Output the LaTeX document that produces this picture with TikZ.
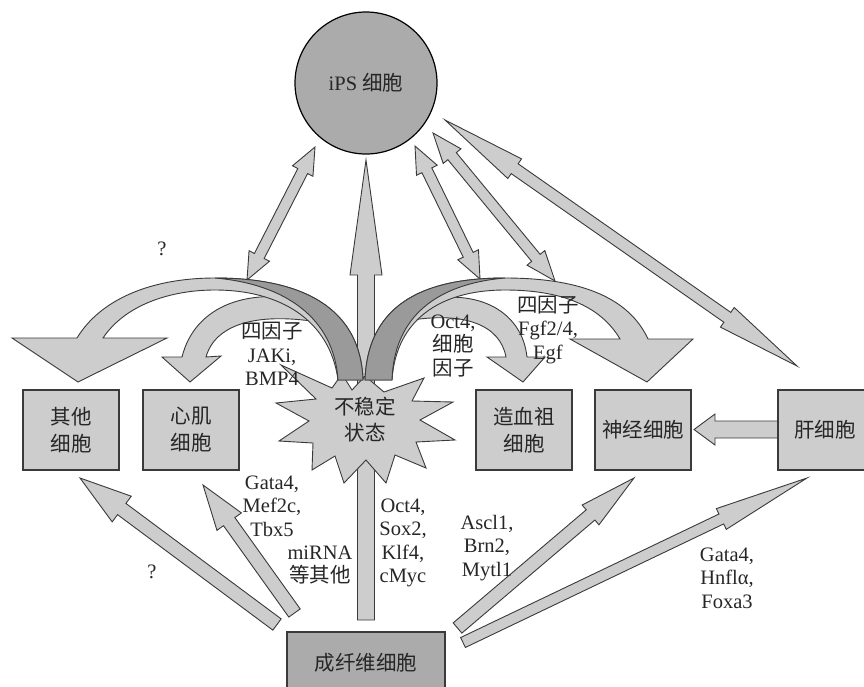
\documentclass[tikz,border=0pt]{standalone}
\usepackage{fontspec}
\setmainfont{Liberation Serif}
\newfontfamily\cjk{Noto Sans CJK SC}
\usetikzlibrary{calc}
\definecolor{lightg}{HTML}{CDCDCD}
\definecolor{midg}{HTML}{ABABAB}
\definecolor{darkg}{HTML}{9A9A9A}
\definecolor{edgec}{HTML}{3A3A3A}
% single block arrow: start, end, half shaft, head length, half head
\newcommand{\blkarrow}[5]{%
  \coordinate (hh) at ($(#2)!#4!(#1)$);
  \draw[blk] ($(#1)!#3!90:(#2)$) -- ($(hh)!#3!90:(#2)$) -- ($(hh)!#5!90:(#2)$) -- (#2)
    -- ($(hh)!#5!-90:(#2)$) -- ($(hh)!#3!-90:(#2)$) -- ($(#1)!#3!-90:(#2)$) -- cycle;}
% double block arrow
\newcommand{\dblarrow}[5]{%
  \coordinate (ha) at ($(#1)!#4!(#2)$);
  \coordinate (hb) at ($(#2)!#4!(#1)$);
  \draw[blk] (#1) -- ($(ha)!#5!90:(#2)$) -- ($(ha)!#3!90:(#2)$) -- ($(hb)!#3!90:(#2)$)
    -- ($(hb)!#5!90:(#2)$) -- (#2) -- ($(hb)!#5!-90:(#2)$) -- ($(hb)!#3!-90:(#2)$)
    -- ($(ha)!#3!-90:(#2)$) -- ($(ha)!#5!-90:(#2)$) -- cycle;}
\begin{document}
\begin{tikzpicture}[x=1pt,y=-1pt,
  blk/.style={draw=edgec, line width=0.9pt, fill=lightg, line join=miter},
  blkdark/.style={draw=edgec, line width=0.9pt, fill=darkg, line join=miter},
  cellbox/.style={draw=edgec, line width=1.3pt, fill=lightg, minimum width=96pt,
    minimum height=80pt, inner sep=0pt, align=center, text=black!85,
    font=\cjk\fontsize{20.5}{27}\selectfont},
  lbl/.style={align=center, inner sep=0pt, text=black!85,
    font=\fontsize{20.5}{23.5}\selectfont}]
\useasboundingbox (0,0) rectangle (864,686);

% ---- connector end points ----
\coordinate (barB) at (366,620);
\coordinate (barT) at (366,160);
\coordinate (d1a) at (247,280); \coordinate (d1b) at (315,147);
\coordinate (d2a) at (480,279); \coordinate (d2b) at (415,146);
\coordinate (d3a) at (555,281); \coordinate (d3b) at (433,133);
\coordinate (d4a) at (797,366); \coordinate (d4b) at (445,120);
\coordinate (hzA) at (780,429.5); \coordinate (hzB) at (694,429.5);
\coordinate (b1a) at (277,624.5); \coordinate (b1b) at (80,478);
\coordinate (b2a) at (294.5,613); \coordinate (b2b) at (203,485);
\coordinate (b3a) at (457.5,628); \coordinate (b3b) at (634,478);
\coordinate (b4a) at (463,642.5); \coordinate (b4b) at (807,478);

% ---- central bar arrow (fibroblast -> iPS) ----
\blkarrow{barB}{barT}{8.5pt}{115pt}{16pt}

% ---- double arrows to iPS ----
\dblarrow{d1a}{d1b}{5.5pt}{27pt}{11.5pt}
\dblarrow{d2a}{d2b}{5.5pt}{27pt}{11.5pt}
\dblarrow{d3a}{d3b}{5.5pt}{30pt}{11.5pt}
\dblarrow{d4a}{d4b}{6pt}{85pt}{12pt}

% ---- unstable state star ----
\draw[blk] (365,376) -- (384,392) -- (424,378) -- (412,401) -- (453,402) -- (420,420)
  -- (455,440) -- (416,442) -- (426,468) -- (395,455) -- (386,483) -- (366,460)
  -- (344,483) -- (335,456) -- (312,470) -- (313,443) -- (279,441) -- (309,421)
  -- (276,403) -- (316,399) -- (281,365) -- (332,388) -- (342,374) -- (352,390) -- cycle;
\node[lbl, font=\cjk\fontsize{20.5}{26}\selectfont] (unstable) at (365,420) {不稳定\\状态};

% ---- small arches ----
\draw[blk] (318,303) .. controls (250,285) and (195,305) .. (182,357) -- (162,357)
  -- (190,382) -- (221,356) -- (206,357) .. controls (215,325) and (255,312) .. (318,322) -- cycle;
\draw[blk] (412,303) .. controls (475,285) and (522,310) .. (527,357) -- (545,357)
  -- (523,382) -- (487,357) -- (506,357) .. controls (500,325) and (465,312) .. (412,320) -- cycle;

% ---- big arches ----
\draw[blk] (363,380) .. controls (360,300) and (290,278) .. (215,278)
  .. controls (150,278) and (100,300) .. (77,338) -- (12,338) -- (78,382) -- (167,338)
  -- (103,338) .. controls (125,305) and (170,290) .. (215,290)
  .. controls (280,290) and (330,320) .. (338,380) -- cycle;
\draw[blkdark] (363,380) .. controls (360,300) and (290,278) .. (215,278)
  .. controls (285,284) and (334,318) .. (338,380) -- cycle;
\draw[blk] (365,380) .. controls (368,300) and (430,278) .. (505,278)
  .. controls (585,278) and (630,300) .. (648,339) -- (693,339) -- (647,382) -- (570,339)
  -- (620,339) .. controls (600,305) and (560,290) .. (505,290)
  .. controls (440,290) and (396,320) .. (392,380) -- cycle;
\draw[blkdark] (365,380) .. controls (368,300) and (430,278) .. (505,278)
  .. controls (435,284) and (394,318) .. (392,380) -- cycle;

% ---- liver -> neuron arrow ----
\blkarrow{hzA}{hzB}{8.5pt}{21pt}{15.5pt}

% ---- arrows from fibroblast ----
\blkarrow{b1a}{b1b}{7pt}{52pt}{16pt}
\blkarrow{b2a}{b2b}{7pt}{45pt}{15pt}
\blkarrow{b3a}{b3b}{6.7pt}{57pt}{13pt}
\blkarrow{b4a}{b4b}{5.5pt}{95pt}{11.5pt}

% ---- nodes ----
\node[circle, draw=black, line width=1.2pt, fill=midg, minimum size=142pt, inner sep=0pt,
  text=black!85, font=\fontsize{20.5}{23.5}\selectfont] (ips) at (366,83) {iPS {\cjk 细胞}};
\node[cellbox] (other) at (71,430) {其他\\细胞};
\node[cellbox] (heart) at (191,430) {心肌\\细胞};
\node[cellbox] (hema) at (524,430) {造血祖\\细胞};
\node[cellbox] (neuro) at (643,430) {神经细胞};
\node[cellbox, minimum width=94pt] (liver) at (825,430) {肝细胞};
\node[cellbox, fill=midg, minimum width=158pt, minimum height=62pt] (fib) at (366,663) {成纤维细胞};

% ---- labels ----
\node[lbl] (q1) at (162,249) {?};
\node[lbl] (q2) at (152,572) {?};
\node[lbl] (l1) at (272,354) {{\cjk 四因子}\\JAKi,\\BMP4};
\node[lbl] (l2) at (453,346) {Oct4,\\{\cjk 细胞}\\{\cjk 因子}};
\node[lbl] (l3) at (548,330) {{\cjk 四因子}\\Fgf2/4,\\Egf};
\node[lbl] (l4) at (272,506) {Gata4,\\Mef2c,\\Tbx5};
\node[lbl] (l5) at (320,565) {miRNA\\{\cjk 等其他}};
\node[lbl] (l6) at (403,543) {Oct4,\\Sox2,\\Klf4,\\cMyc};
\node[lbl] (l7) at (487,548) {Ascl1,\\Brn2,\\Mytl1};
\node[lbl] (l8) at (727,578) {Gata4,\\Hnflα,\\Foxa3};
\end{tikzpicture}
\end{document}
